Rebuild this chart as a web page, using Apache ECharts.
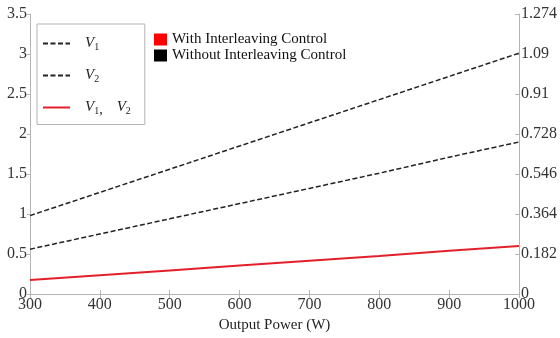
<!DOCTYPE html>
<html>
<head>
<meta charset="utf-8">
<script src="https://cdn.jsdelivr.net/npm/echarts@6/dist/echarts.min.js"></script>
<style>html,body{margin:0;padding:0;background:#fff}#c{width:560px;height:338px}</style>
</head>
<body>
<div id="c"></div>
<script>
const power = [300, 400, 500, 600, 700, 800, 900, 1000];
const v1Without = [0.98, 1.27, 1.56, 1.85, 2.14, 2.43, 2.72, 3.01];
const v2Without = [0.56, 0.75, 0.94, 1.13, 1.32, 1.51, 1.71, 1.90];
const vWith = [0.175, 0.235, 0.295, 0.355, 0.415, 0.475, 0.54, 0.60];
const rightTickLabels = ['0', '0.182', '0.364', '0.546', '0.728', '0.91', '1.09', '1.274'];

const zip = (xs, ys) => xs.map((x, i) => [x, ys[i]]);
const serif = 'Liberation Serif';
const axisGray = '#b4b4b4';

const chart = echarts.init(document.getElementById('c'), null, {renderer: 'canvas'});
chart.setOption({
  animation: false,
  backgroundColor: '#fff',
  grid: {left: 30, right: 35, top: 14, bottom: 44},
  textStyle: {fontFamily: serif},
  xAxis: [{
    type: 'value', min: 300, max: 1000, interval: 100,
    name: 'Output Power (W)', nameLocation: 'middle', nameGap: 24,
    nameTextStyle: {fontFamily: serif, fontSize: 15, color: '#222'},
    axisLine: {show: true, lineStyle: {color: axisGray}},
    axisTick: {show: true, inside: true, length: 4, lineStyle: {color: axisGray}},
    axisLabel: {fontFamily: serif, fontSize: 16, color: '#333', margin: 3, formatter: v => String(v)},
    splitLine: {show: false}
  }, {
    type: 'value', position: 'top', min: 300, max: 1000, interval: 100,
    axisLine: {show: true, lineStyle: {color: axisGray}},
    axisTick: {show: true, inside: true, length: 4, lineStyle: {color: axisGray}},
    axisLabel: {show: false}, splitLine: {show: false}
  }],
  yAxis: [{
    type: 'value', min: 0, max: 3.5, interval: 0.5, position: 'left',
    axisLine: {show: true, lineStyle: {color: axisGray}},
    axisTick: {show: true, inside: false, length: 3, lineStyle: {color: axisGray}},
    axisLabel: {fontFamily: serif, fontSize: 16, color: '#333', margin: 3},
    splitLine: {show: false}
  }, {
    type: 'value', min: 0, max: 1.274, interval: 0.182, position: 'right',
    axisLine: {show: true, lineStyle: {color: axisGray}},
    axisTick: {show: true, inside: true, length: 4, lineStyle: {color: axisGray}},
    axisLabel: {fontFamily: serif, fontSize: 16, color: '#333', margin: 2,
      formatter: v => rightTickLabels[Math.round(v / 0.182)]},
    splitLine: {show: false}
  }],
  legend: [{
    orient: 'vertical', left: 37, top: 24,
    padding: [12, 14, 7, 5], itemGap: 15.5, itemWidth: 27, itemHeight: 14,
    borderColor: '#b4b4b4', borderWidth: 1,
    selectedMode: false,
    itemStyle: {opacity: 0},
    data: ['V1', 'V2', 'V1, V2'],
    formatter: function (name) {
      if (name === 'V1') return '{p|}{i|V}{s|1}';
      if (name === 'V2') return '{p|}{i|V}{s|2}';
      return '{p|}{i|V}{s|1}{n|,    }{i|V}{s|2}';
    },
    textStyle: {
      fontFamily: serif, fontSize: 15, color: '#222',
      rich: {
        p: {width: 10},
        i: {fontFamily: serif, fontStyle: 'italic', fontSize: 15, color: '#222'},
        s: {fontFamily: serif, fontSize: 10, color: '#222', padding: [8, 0, 0, 0]},
        n: {fontFamily: serif, fontSize: 14, color: '#222', padding: [6, 0, 0, 0]}
      }
    }
  }, {
    orient: 'vertical', left: 154, top: 32,
    padding: 0, itemGap: 1, itemWidth: 13, itemHeight: 12,
    selectedMode: false,
    icon: 'rect',
    data: ['With Interleaving Control', 'Without Interleaving Control'],
    textStyle: {fontFamily: serif, fontSize: 15, color: '#111', padding: [0, 0, 0, 0]}
  }],
  series: [{
    name: 'V1', type: 'line', xAxisIndex: 0, yAxisIndex: 0,
    data: zip(power, v1Without), symbol: 'none', showSymbol: false,
    lineStyle: {color: '#222', width: 1.5, type: [5, 2.5]}, itemStyle: {color: '#222'}, z: 3
  }, {
    name: 'V2', type: 'line', xAxisIndex: 0, yAxisIndex: 0,
    data: zip(power, v2Without), symbol: 'none', showSymbol: false,
    lineStyle: {color: '#222', width: 1.5, type: [5, 2.5]}, itemStyle: {color: '#222'}, z: 3
  }, {
    name: 'V1, V2', type: 'line', xAxisIndex: 0, yAxisIndex: 0,
    data: zip(power, vWith), symbol: 'none', showSymbol: false,
    lineStyle: {color: '#e3202a', width: 2}, itemStyle: {color: '#e3202a'}, z: 4
  }, {
    name: 'With Interleaving Control', type: 'line', data: [],
    itemStyle: {color: '#ff0000'}, lineStyle: {color: '#ff0000'}
  }, {
    name: 'Without Interleaving Control', type: 'line', data: [],
    itemStyle: {color: '#000000'}, lineStyle: {color: '#000000'}
  }]
});
</script>
</body>
</html>
